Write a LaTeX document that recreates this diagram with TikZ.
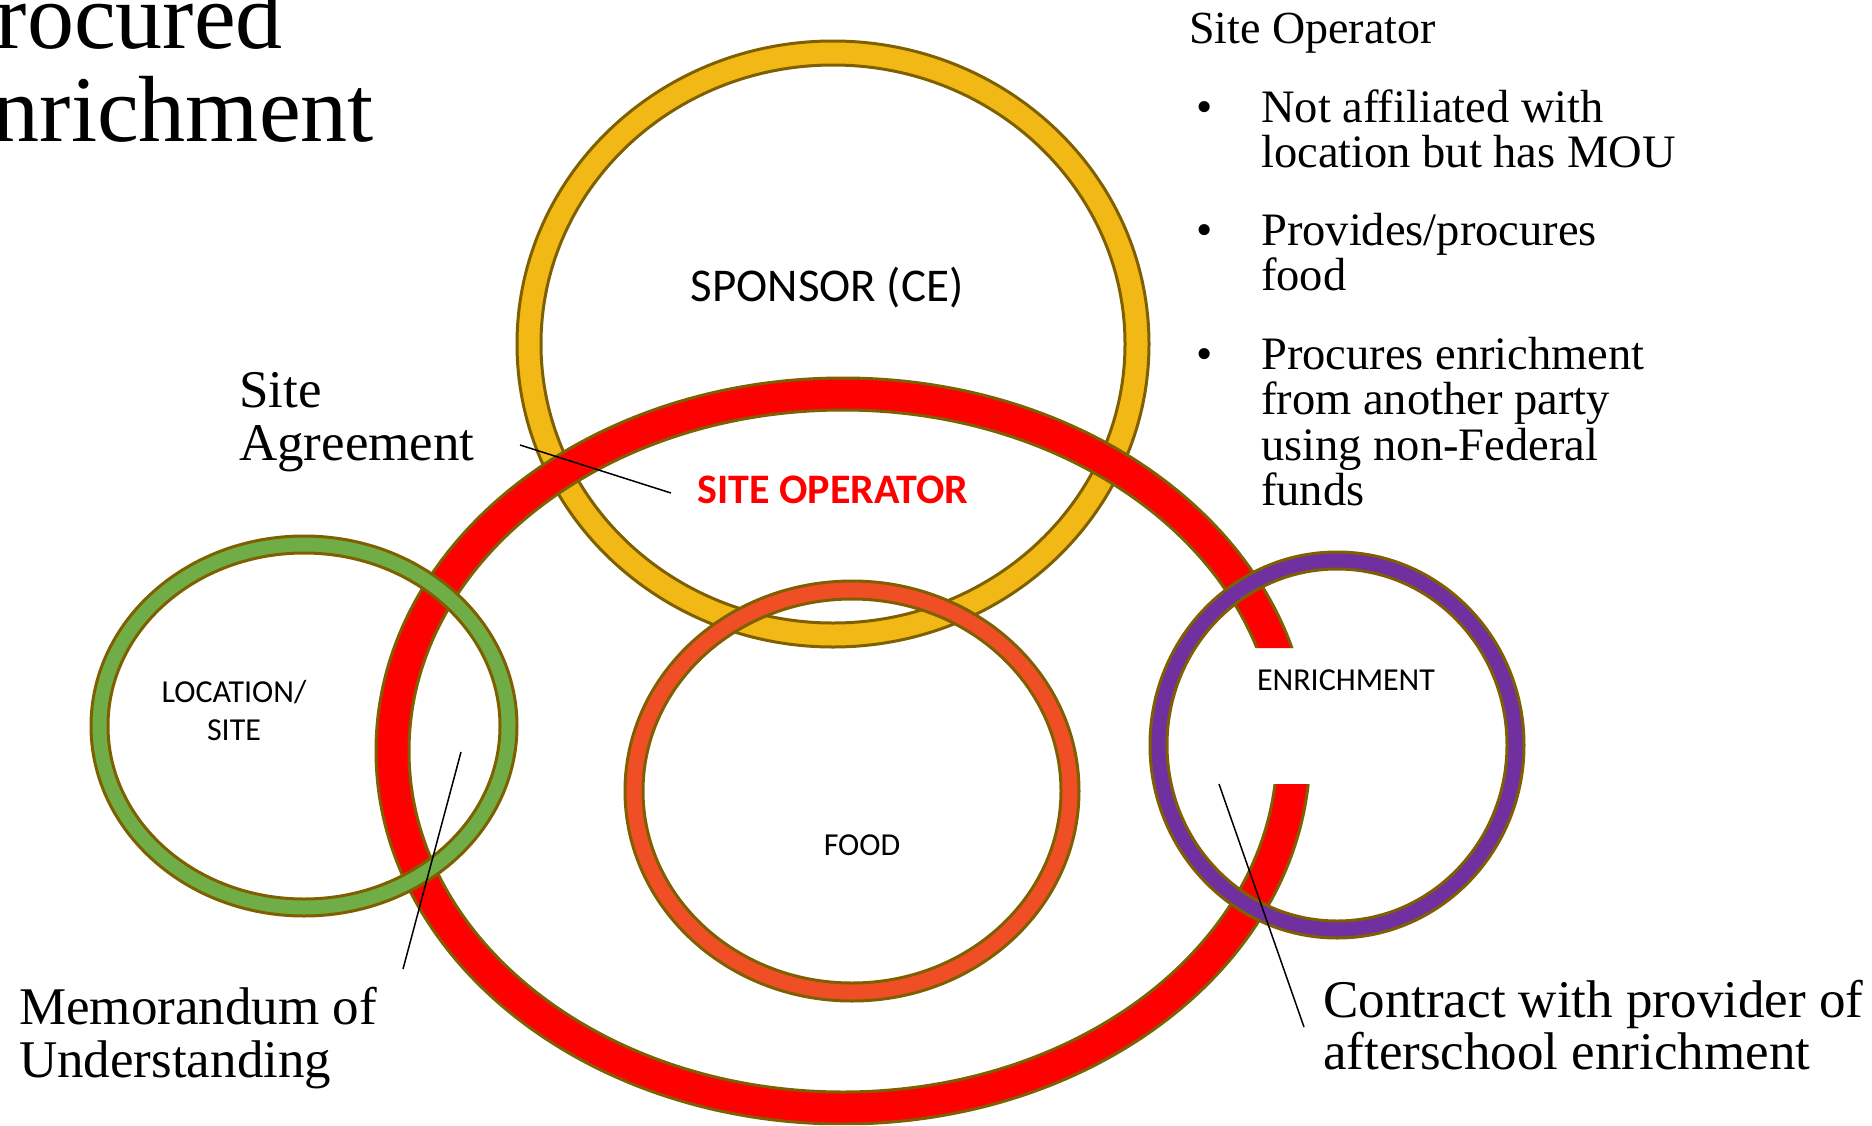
\documentclass[tikz,border=0pt]{standalone}
\usepackage{fontspec}
\setmainfont{Liberation Serif}
\newfontfamily\ringfont{Carlito}

\definecolor{ringedge}{HTML}{7F6000}
\definecolor{sponsorgold}{HTML}{F2B816}
\definecolor{operatorred}{HTML}{FF0000}
\definecolor{foodorange}{HTML}{F04F26}
\definecolor{sitegreen}{HTML}{70AD47}
\definecolor{enrichpurple}{HTML}{7030A0}

\tikzset{ring/.style = {draw = ringedge, line width = 3, even odd rule, fill = #1},
         leader/.style = {draw = black, line width = 1.5},
         note/.style = {inner sep = 0pt, anchor = base west, font = \fontsize{53}{53}\selectfont},
         bullet/.style = {inner sep = 0pt, anchor = base west, font = \fontsize{46.5}{45}\selectfont},
         ringlabel/.style = {inner sep = 0pt, anchor = base, font = \ringfont\fontsize{#1}{38}\selectfont},
         ringlabel/.default = 32
        }

\begin{document}
\begin{tikzpicture}[x = 1pt, y = -1pt]
  \useasboundingbox (0, 0) rectangle (1872, 1125);
  % rings, back to front
  \path[ring = sponsorgold] (833, 344) ellipse [x radius = 316, y radius = 303]
                            (833, 344) ellipse [x radius = 292, y radius = 279];
  \begin{scope}
    \clip (0, 0) rectangle (1872, 648) (0, 784) rectangle (1872, 1125) (0, 648) rectangle (1100, 784);
    \path[ring = operatorred] (843, 751) ellipse [x radius = 467, y radius = 373]
                              (843, 751) ellipse [x radius = 434, y radius = 341];
  \end{scope}
  \path[ring = foodorange] (852, 791) ellipse [x radius = 227, y radius = 210]
                           (852, 791) ellipse [x radius = 209, y radius = 192];
  \path[ring = sitegreen] (304, 726) ellipse [x radius = 213, y radius = 190]
                          (304, 726) ellipse [x radius = 196, y radius = 173];
  \path[ring = enrichpurple] (1337, 745) ellipse [x radius = 187, y radius = 193]
                             (1337, 745) ellipse [x radius = 170, y radius = 176];

  % labels inside the rings
  \node[ringlabel = 47] (sponsor) at (827, 301) {SPONSOR (CE)};
  \node[ringlabel = 42, text = operatorred, font = \ringfont\bfseries\fontsize{42}{42}\selectfont] (siteop) at (833, 503) {SITE OPERATOR};
  \node[ringlabel, anchor = center, align = center] (location) at (234, 710) {LOCATION/\\SITE};
  \node[ringlabel] (food) at (862, 855) {FOOD};
  \node[ringlabel] (enrich) at (1346, 690) {ENRICHMENT};

  % title, cut by the left edge
  \node[inner sep = 0pt, anchor = base east, font = \fontsize{94}{94}\selectfont] (title1) at (283, 48) {rocured};
  \node[inner sep = 0pt, anchor = base east, font = \fontsize{94}{94}\selectfont] (title2) at (374, 141) {nrichment};

  % side notes
  \node[note] (agree1) at (239, 407) {Site};
  \node[note] (agree2) at (239, 460) {Agreement};
  \node[note] (mou1) at (19, 1024) {Memorandum of};
  \node[note] (mou2) at (19, 1077) {Understanding};
  \node[note] (contract1) at (1323, 1017) {Contract with provider of};
  \node[note] (contract2) at (1323, 1069) {afterschool enrichment};

  % site operator list
  \node[bullet, font = \fontsize{46}{45}\selectfont] (opHead) at (1189, 43) {Site Operator};
  \node[bullet] (dot1) at (1196, 122) {\textbullet};
  \node[bullet] (dot2) at (1196, 245) {\textbullet};
  \node[bullet] (dot3) at (1196, 369) {\textbullet};
  \node[bullet] (op1a) at (1261, 122) {Not affiliated with};
  \node[bullet] (op1b) at (1261, 167) {location but has MOU};
  \node[bullet] (op2a) at (1261, 245) {Provides/procures};
  \node[bullet] (op2b) at (1261, 290) {food};
  \node[bullet] (op3a) at (1261, 369) {Procures enrichment};
  \node[bullet] (op3b) at (1261, 414) {from another party};
  \node[bullet] (op3c) at (1261, 460) {using non-Federal};
  \node[bullet] (op3d) at (1261, 505) {funds};

  % leader lines
  \coordinate (agreeFrom) at (520, 445);
  \coordinate (agreeTo) at (671, 493);
  \coordinate (mouFrom) at (461, 752);
  \coordinate (mouTo) at (403, 969);
  \coordinate (contractFrom) at (1219, 784);
  \coordinate (contractTo) at (1304, 1027);
  \draw[leader] (agreeFrom) -- (agreeTo);
  \draw[leader] (mouFrom) -- (mouTo);
  \draw[leader] (contractFrom) -- (contractTo);
\end{tikzpicture}
\end{document}
